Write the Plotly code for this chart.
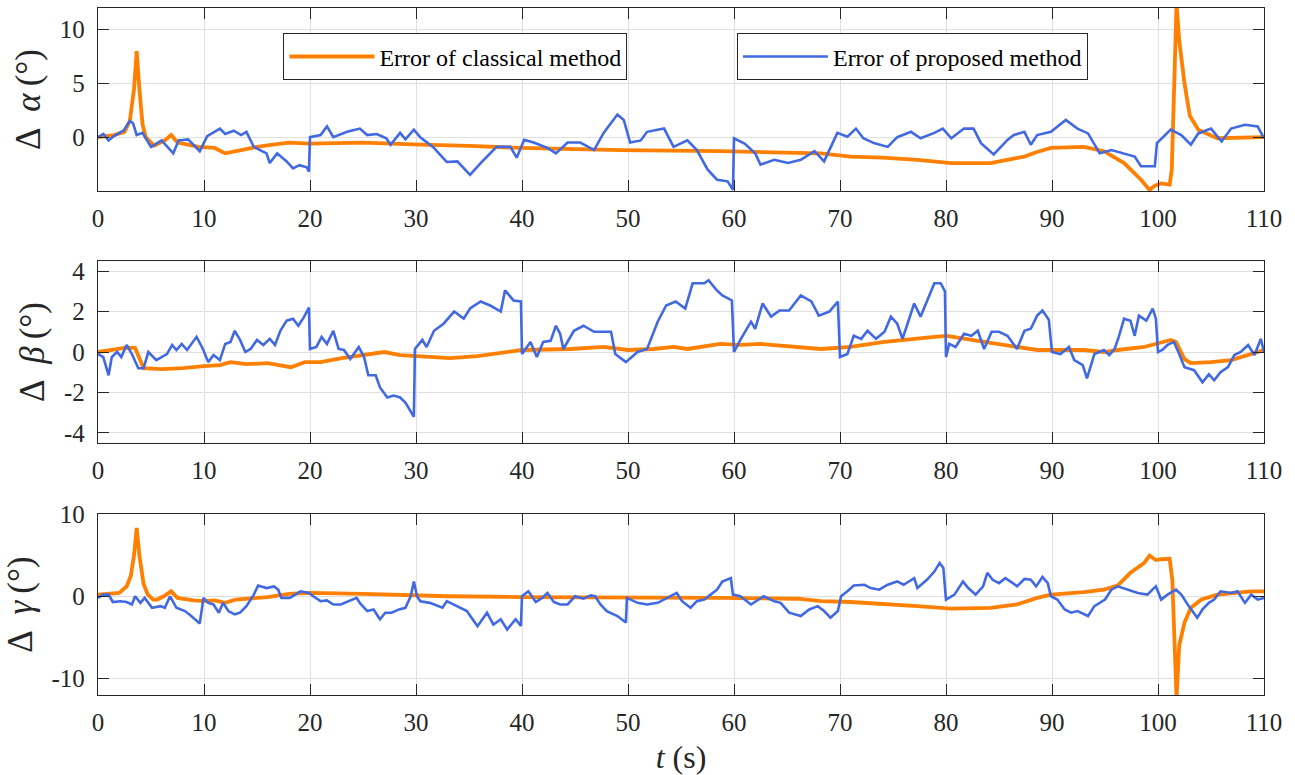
import plotly.graph_objects as go
from plotly.subplots import make_subplots

# ---------------- data ----------------
t_alpha_cls = [0, 1.5, 2.5, 3.0, 3.4, 3.65, 3.9, 4.2, 4.5, 5.3, 6.3, 6.9, 7.5, 9.5, 11.0, 12.0, 13.5, 15.0,
               16.5, 18.0, 20.0, 25.0, 30.4, 35.0, 39.9, 49.3, 58.7, 66.0, 68.2, 71.0, 74.0, 77.3, 80.5,
               84.2, 86.0, 87.4, 88.5, 89.9, 93.0, 94.9, 96.8, 98.4, 99.2, 99.7, 100.3, 101.1, 101.3,
               101.5, 101.75, 102.0, 102.5, 103.0, 103.8, 105.6, 108.0, 110.0]
alpha_cls = [0, 0.2, 0.5, 1.5, 4.5, 8.0, 4.5, 1.2, 0.0, -0.8, -0.3, 0.2, -0.5, -0.9, -1.0, -1.5, -1.2, -0.9,
             -0.7, -0.5, -0.6, -0.5, -0.7, -0.8, -1.0, -1.2, -1.3, -1.4, -1.5, -1.8, -1.9, -2.1, -2.4,
             -2.4, -2.1, -1.8, -1.4, -1.0, -0.9, -1.3, -2.4, -3.95, -4.9, -4.5, -4.3, -4.4, -3.0,
             3.0, 12.4, 9.0, 5.0, 2.0, 0.7, -0.1, 0.0, 0.0]

t_alpha_prop = [0, 0.5, 1.0, 1.5, 2.4, 3.0, 3.3, 3.65, 4.2, 5.0, 6.0, 7.1, 7.6, 8.5, 9.6, 10.3, 11.5, 12.0,
                12.8, 13.5, 14.0, 14.7, 15.9, 16.2, 16.9, 17.8, 18.4, 19.0, 19.7, 19.9, 20.0, 21.0, 21.6,
                22.2, 23.5, 24.7, 25.4, 26.3, 27.2, 27.6, 28.5, 29.0, 29.8, 30.4, 31.6, 32.9, 33.9, 35.1,
                36.1, 37.6, 38.9, 39.5, 40.2, 41.1, 42.4, 43.2, 44.3, 45.5, 46.8, 47.7, 49.0, 49.6, 50.2,
                51.2, 51.8, 53.4, 54.3, 55.6, 56.5, 57.5, 58.4, 59.4, 59.9, 60.0, 61.0, 62.0, 62.5, 63.8,
                65.1, 66.3, 67.6, 68.5, 69.75, 70.7, 71.5, 72.2, 73.2, 74.5, 75.4, 76.7, 77.6, 78.9, 79.7,
                80.5, 81.7, 82.6, 83.3, 84.5, 85.8, 86.4, 87.4, 88.0, 88.6, 89.9, 91.3, 92.4, 93.4, 94.5,
                95.6, 96.8, 97.8, 98.4, 99.7, 99.9, 101.2, 102.2, 103.1, 103.8, 105.0, 106.0, 106.9,
                108.2, 109.4, 110.0]
alpha_prop = [0, 0.3, -0.3, 0.1, 0.6, 1.5, 1.3, 0.2, 0.4, -0.9, -0.3, -1.5, -0.3, -0.2, -1.3, 0.1, 0.8, 0.3,
              0.6, 0.2, 0.5, -0.9, -1.5, -2.4, -1.5, -2.25, -2.9, -2.6, -2.8, -3.2, 0.0, 0.2, 1.0,
              0.0, 0.5, 0.8, 0.2, 0.3, -0.1, -0.7, 0.4, -0.2, 0.7, 0.0, -0.9, -2.3, -2.25, -3.5,
              -2.4, -0.9, -0.9, -1.9, -0.25, -0.5, -1.0, -1.5, -0.5, -0.5, -1.2, 0.4, 2.1, 1.6, -0.5,
              -0.3, 0.5, 0.8, -0.9, -0.3, -1.2, -3.0, -3.95, -4.1, -4.9, -0.1, -0.6, -1.5, -2.55, -2.1,
              -2.4, -2.1, -1.3, -2.25, 0.4, 0.05, 0.8, -0.1, -0.55, -0.9, 0.0, 0.5, -0.1, 0.4, 0.8,
              -0.1, 0.8, 0.8, -0.55, -1.6, -0.25, 0.2, 0.5, -0.7, 0.2, 0.5, 1.6, 0.8, 0.35, -1.5,
              -1.2, -1.5, -1.8, -2.7, -2.7, -0.55, 0.7, 0.2, -0.7, 0.35, 0.8, -0.4, 0.8,
              1.15, 1.0, -0.1]

t_beta_cls = [0, 1.5, 2.5, 3.5, 3.9, 4.3, 6.0, 8.0, 10.0, 11.5, 12.5, 14.0, 16.0, 17.5, 18.2, 19.5, 21.0,
              23.0, 25.0, 27.0, 28.5, 30.4, 33.2, 35.8, 40.0, 44.6, 47.7, 50.0, 52.4, 54.3, 55.6, 58.7,
              60.6, 62.5, 66.3, 68.2, 71.0, 74.2, 78.9, 80.1, 83.6, 86.7, 88.6, 93.0, 94.9, 96.2, 98.7,
              101.2, 101.7, 102.5, 103.1, 105.0, 106.9, 110.0]
beta_cls = [0, 0.1, 0.2, 0.2, -0.3, -0.8, -0.85, -0.8, -0.7, -0.65, -0.5, -0.6, -0.55, -0.7, -0.75, -0.5, -0.5,
            -0.3, -0.15, 0.0, -0.15, -0.2, -0.3, -0.2, 0.1, 0.15, 0.25, 0.1, 0.15, 0.25, 0.15, 0.4,
            0.35, 0.4, 0.25, 0.15, 0.25, 0.5, 0.75, 0.8, 0.5, 0.25, 0.1, 0.1, 0.0, 0.1, 0.25,
            0.6, 0.5, -0.35, -0.55, -0.5, -0.4, 0.1]

t_beta_prop = [0, 0.5, 1.0, 1.3, 1.8, 2.2, 2.7, 3.2, 3.8, 4.3, 4.75, 5.5, 6.5, 7.0, 7.4, 7.9, 8.4, 8.8, 9.3,
               9.9, 10.4, 10.9, 11.5, 12.0, 12.5, 12.9, 13.4, 13.9, 14.4, 15.0, 15.6, 16.2, 16.7, 17.2,
               17.8, 18.4, 18.9, 19.4, 19.9, 20.0, 20.6, 21.1, 21.6, 22.2, 22.7, 23.2, 23.8, 24.6, 25.1,
               25.5, 26.2, 26.6, 27.3, 27.9, 28.5, 29.0, 29.6, 29.8, 29.9, 30.6, 31.0, 31.7, 32.6, 33.6,
               34.5, 35.1, 36.1, 37.0, 38.0, 38.4, 39.2, 39.9, 40.0, 40.8, 41.4, 42.0, 42.7, 43.2, 43.6,
               43.9, 44.9, 45.8, 46.8, 47.7, 48.4, 48.8, 49.8, 50.9, 51.8, 52.8, 53.6, 54.5, 55.4, 56.1,
               57.2, 57.6, 58.3, 58.9, 59.8, 60.0, 60.6, 61.6, 62.0, 62.7, 63.5, 64.3, 65.2, 66.3, 67.3,
               68.0, 69.0, 69.8, 70.0, 70.7, 71.3, 72.0, 72.6, 73.4, 74.2, 74.8, 75.4, 75.9, 76.4, 77.0,
               77.6, 78.2, 78.9, 79.5, 79.9, 80.0, 80.3, 80.9, 81.7, 82.4, 83.0, 83.6, 84.3, 85.0, 85.8,
               86.7, 87.4, 88.0, 88.6, 89.1, 89.7, 90.0, 90.8, 91.6, 92.1, 92.9, 93.3, 94.0, 94.9, 95.4,
               95.9, 96.3, 96.8, 97.4, 97.8, 98.2, 98.9, 99.5, 99.8, 100.0, 100.4, 100.9, 101.5, 102.0,
               102.5, 103.4, 104.2, 104.8, 105.3, 105.9, 106.6, 107.2, 107.8, 108.5, 109.1, 109.7, 110.0]
beta_prop = [-0.1, -0.25, -1.15, -0.25, 0.0, -0.25, 0.35, -0.1, -0.8, -0.8, 0.0, -0.4, -0.1, 0.35, 0.1, 0.4, 0.1,
             0.4, 0.75, 0.15, -0.5, -0.15, -0.4, 0.4, 0.5, 1.05, 0.6, 0.0, 0.15, 0.6, 0.35, 0.65, 0.35, 1.05,
             1.55, 1.65, 1.3, 1.7, 2.2, 0.15, 0.25, 0.75, 0.4, 1.05, 0.15, 0.1, -0.35, 0.25, -0.25,
             -1.15, -1.15, -1.75, -2.25, -2.15, -2.25, -2.5, -3.0, -3.2, 0.15, 0.6, 0.25, 1.05, 1.4, 2.0,
             1.65, 2.15, 2.5, 2.3, 2.0, 3.05, 2.55, 2.5, -0.1, 0.5, -0.25, 0.5, 0.55, 1.3, 0.9,
             0.15, 1.05, 1.3, 1.0, 1.0, 1.0, -0.1, -0.5, 0.0, 0.15, 1.5, 2.3, 2.5, 2.15, 3.4,
             3.4, 3.55, 3.1, 2.8, 2.55, 0.0, 0.6, 1.5, 1.15, 2.4, 1.75, 2.05, 2.05, 2.8, 2.5,
             1.8, 2.0, 2.5, -0.25, -0.1, 0.8, 0.65, 1.05, 0.65, 1.0, 1.75, 1.4, 0.65, 1.5, 2.4,
             1.75, 2.55, 3.4, 3.4, 3.0, -0.25, 0.4, 0.25, 0.9, 0.8, 1.05, 0.15, 1.0, 1.0, 0.8,
             0.15, 1.05, 1.15, 1.8, 2.05, 1.6, 0.0, -0.1, 0.25, -0.4, -0.65, -1.3, -0.1, 0.1, -0.15,
             0.15, 0.75, 1.65, 1.55, 0.8, 1.8, 1.55, 2.15, 1.65, 0.0, 0.1, 0.35, 0.5, -0.1,
             -0.75, -0.9, -1.5, -1.1, -1.4, -1.0, -0.75, -0.15, 0.0, 0.35, -0.15, 0.65, 0.0]

t_gamma_cls = [0, 2.0, 2.7, 3.1, 3.4, 3.65, 3.9, 4.3, 4.7, 5.2, 5.6, 6.2, 6.9, 7.5, 9.0, 10.0, 11.0, 12.0,
               13.0, 14.5, 16.0, 18.0, 20.0, 25.0, 30.0, 33.0, 39.9, 49.3, 58.7, 66.0, 68.2, 71.0, 74.0,
               77.3, 80.5, 84.2, 86.7, 88.6, 89.9, 93.0, 94.9, 96.2, 97.4, 98.7, 99.2, 99.8, 100.3,
               101.1, 101.35, 101.55, 101.75, 102.0, 102.5, 103.1, 104.1, 105.6, 108.8, 110.0]
gamma_cls = [0.2, 0.4, 1.2, 2.5, 5.0, 8.3, 5.0, 1.5, 0.2, -0.4, -0.4, 0.0, 0.6, -0.2, -0.5, -0.6, -0.5, -0.8,
             -0.4, -0.2, -0.1, 0.3, 0.4, 0.3, 0.1, 0.0, -0.1, -0.1, -0.2, -0.3, -0.6, -0.7, -0.9,
             -1.2, -1.5, -1.4, -1.0, -0.2, 0.2, 0.5, 0.8, 1.3, 2.85, 4.05, 4.95, 4.4, 4.5,
             4.55, 2.0, -6.0, -12.4, -6.0, -3.2, -1.4, -0.4, 0.2, 0.6, 0.6]

t_gamma_prop = [0, 0.5, 1.0, 1.4, 2.1, 2.7, 3.2, 3.5, 4.0, 4.4, 5.1, 5.9, 6.3, 6.8, 7.4, 8.2, 8.8, 9.6, 9.95,
                10.4, 10.9, 11.4, 11.8, 12.3, 12.9, 13.4, 14.0, 14.7, 15.1, 15.9, 16.6, 17.0, 17.3, 18.1,
                19.1, 19.9, 20.3, 21.0, 21.6, 22.2, 22.9, 23.6, 24.4, 24.7, 25.4, 26.0, 26.6, 27.1, 27.7,
                28.4, 29.0, 29.5, 29.8, 30.1, 30.4, 31.3, 31.7, 32.5, 32.9, 33.9, 34.8, 35.8, 36.7, 37.3,
                38.0, 38.6, 39.4, 39.9, 40.0, 40.6, 41.3, 41.9, 42.4, 43.0, 43.6, 44.3, 45.0, 45.8, 46.5,
                46.9, 47.4, 48.0, 49.0, 49.8, 49.9, 50.9, 51.8, 52.8, 53.7, 54.6, 55.1, 55.9, 56.5, 57.2,
                57.8, 58.4, 58.9, 59.7, 59.9, 60.6, 61.6, 62.8, 63.8, 64.4, 65.2, 66.3, 67.1, 67.9, 68.5,
                69.1, 69.8, 70.1, 70.7, 71.3, 72.3, 72.9, 73.7, 74.5, 75.4, 76.0, 77.0, 77.3, 78.2, 78.9,
                79.4, 79.75, 80.0, 80.8, 81.6, 82.1, 82.8, 83.5, 83.9, 84.4, 85.0, 85.6, 86.3, 86.7, 87.4,
                88.0, 88.5, 89.1, 89.6, 89.9, 90.5, 91.2, 91.8, 92.4, 93.4, 94.0, 95.0, 95.6, 96.2, 97.1,
                98.1, 99.0, 99.8, 100.3, 100.9, 101.7, 102.2, 102.8, 103.7, 104.2, 104.8, 105.3, 105.9,
                106.9, 107.5, 108.2, 108.8, 109.4, 110.0]
gamma_prop = [-0.2, 0.2, 0.2, -0.7, -0.6, -0.7, -1.0, 0.0, -0.8, -0.2, -1.4, -1.2, -1.4, 0.0, -1.4, -1.8, -2.4, -3.3, -0.2,
              -0.8, -1.0, -2.0, -0.8, -1.8, -2.2, -2.0, -1.2, 0.2, 1.3, 1.0, 1.2, 0.8, -0.2, -0.2,
              0.6, 0.4, 0.0, -0.6, -0.5, -1.0, -1.0, -0.6, -0.2, -0.8, -1.8, -1.6, -2.8, -2.0, -2.0,
              -1.6, -1.4, 0.0, 1.8, 0.0, -0.6, -0.8, -1.0, -1.4, -0.6, -1.2, -1.8, -3.65, -2.0, -3.45,
              -2.8, -4.05, -2.8, -3.6, 0.0, 0.6, -0.7, -0.2, 0.4, -0.7, -1.0, -1.0, 0.0, -0.3, 0.1,
              0.0, -1.0, -1.8, -2.4, -3.2, -0.2, -0.8, -1.0, -0.8, -0.2, 0.4, -0.6, -1.4, -0.6, -0.4,
              0.2, 0.8, 1.8, 2.2, 0.2, 0.0, -1.0, 0.0, -0.6, -0.8, -2.0, -2.4, -1.6, -1.2, -1.8,
              -2.6, -1.8, 0.0, 0.6, 1.3, 1.4, 1.0, 0.8, 1.4, 1.8, 1.4, 2.2, 1.0, 2.0, 3.0,
              4.05, 3.45, -0.4, 0.2, 1.8, 1.0, 0.2, 1.2, 2.85, 2.0, 1.6, 2.2, 1.6, 1.2, 2.1,
              2.0, 1.2, 2.35, 1.6, 0.0, -0.4, -1.6, -2.0, -1.8, -2.4, -1.2, -0.4, 0.8, 1.2, 0.8,
              0.4, 0.2, 1.2, -0.4, 0.2, 0.8, 0.2, -1.0, -2.6, -1.6, -0.8, -0.4, 0.6,
              0.4, 0.6, -0.8, 0.2, -0.4, -0.2]

x_ticks = [0, 10, 20, 30, 40, 50, 60, 70, 80, 90, 100, 110]
alpha_ticks = [0, 5, 10]
alpha_ticktext = ["0", "5", "10"]
beta_ticks = [-4, -2, 0, 2, 4]
beta_ticktext = ["-4", "-2", "0", "2", "4"]
gamma_ticks = [-10, 0, 10]
gamma_ticktext = ["-10", "0", "10"]

label_cls = "Error of classical method"
label_prop = "Error of proposed method"
ylabels = ["Δ\u00a0\u2009<i>α</i>\u2009(°)", "Δ\u00a0\u2009<i>β</i>\u2009(°)", "Δ\u00a0\u2009<i>γ</i>\u2009(°)"]
xlabel = "<i>t</i> (s)"

# ---------------- figure ----------------
ORANGE = "#FF8000"
BLUE = "#4169E1"
FONT = "Liberation Serif"
AX = "#262626"

fig = make_subplots(rows=3, cols=1)

series = [
    (t_alpha_cls, alpha_cls, t_alpha_prop, alpha_prop),
    (t_beta_cls, beta_cls, t_beta_prop, beta_prop),
    (t_gamma_cls, gamma_cls, t_gamma_prop, gamma_prop),
]
for i, (tc, vc, tp, vp) in enumerate(series):
    row = i + 1
    fig.add_trace(go.Scatter(x=tc, y=vc, mode="lines", name=label_cls,
                             line=dict(color=ORANGE, width=3.8), showlegend=(i == 0),
                             legend="legend"), row=row, col=1)
    fig.add_trace(go.Scatter(x=tp, y=vp, mode="lines", name=label_prop,
                             line=dict(color=BLUE, width=2.6), showlegend=(i == 0),
                             legend="legend2"), row=row, col=1)

domains = [[0.7336, 1.0], [0.3668, 0.6317], [0.0, 0.2635]]
yranges = [[-5, 12], [-4.5, 4.5], [-12, 10]]
yticks = [(alpha_ticks, alpha_ticktext), (beta_ticks, beta_ticktext), (gamma_ticks, gamma_ticktext)]

common = dict(showline=True, linecolor=AX, linewidth=1.3, mirror="ticks", ticks="inside",
              ticklen=11, tickwidth=1.3, tickcolor=AX, showgrid=True, gridcolor="#e0e0e0",
              gridwidth=1.2, zeroline=False, automargin=False,
              tickfont=dict(family=FONT, size=25, color=AX))

for i in range(3):
    xa = "xaxis" if i == 0 else f"xaxis{i + 1}"
    ya = "yaxis" if i == 0 else f"yaxis{i + 1}"
    fig.update_layout({
        xa: dict(common, range=[0, 110], tickvals=x_ticks, ticklabelstandoff=5),
        ya: dict(common, domain=domains[i], range=yranges[i], tickvals=yticks[i][0],
                 ticktext=yticks[i][1], ticklabelstandoff=7,
                 title=dict(text=ylabels[i], font=dict(family=FONT, size=35, color=AX), standoff=8)),
    })

fig.update_layout(xaxis3_title=dict(text=xlabel, font=dict(family=FONT, size=32, color=AX), standoff=14))

leg_common = dict(yanchor="top", xanchor="left", y=0.963, bgcolor="white", bordercolor=AX,
                  borderwidth=1, font=dict(family=FONT, size=24, color="black"),
                  orientation="h", itemwidth=85, tracegroupgap=0)
fig.update_layout(
    legend=dict(leg_common, x=0.159),
    legend2=dict(leg_common, x=0.548),
    width=1295, height=775,
    margin=dict(l=98, r=31, t=8, b=80, autoexpand=False),
    paper_bgcolor="white", plot_bgcolor="white",
    font=dict(family=FONT, color=AX),
)

fig.write_html("out.html")
